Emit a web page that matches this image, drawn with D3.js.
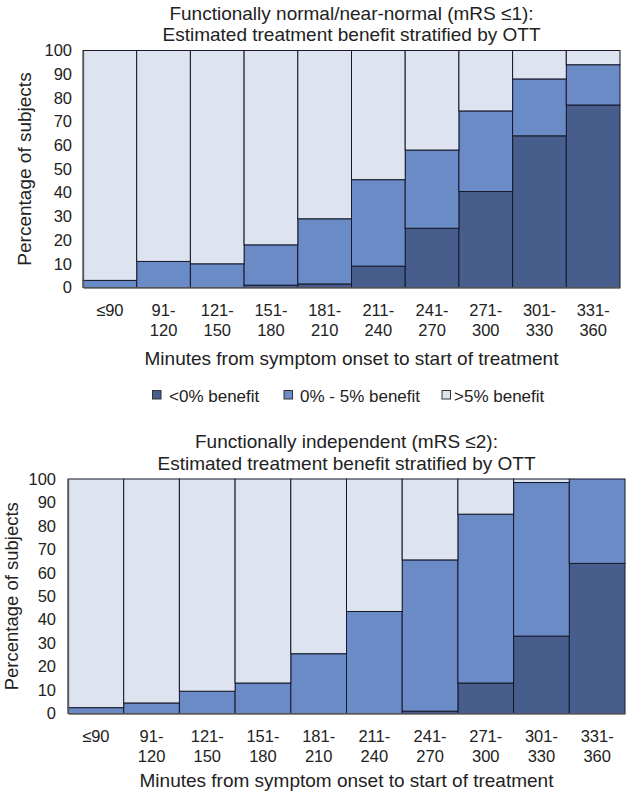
<!DOCTYPE html>
<html>
<head>
<meta charset="utf-8">
<script src="https://cdn.jsdelivr.net/npm/d3@7/dist/d3.min.js"></script>
<style>
  html, body { margin: 0; padding: 0; background: #fff; }
  svg { display: block; }
  text { font-family: "Liberation Sans", Arial, sans-serif; fill: #222; }
</style>
</head>
<body>
<svg id="chart" width="628" height="794"></svg>
<script>
// ---- data ----
const categories = [["≤90"], ["91-", "120"], ["121-", "150"], ["151-", "180"], ["181-", "210"],
  ["211-", "240"], ["241-", "270"], ["271-", "300"], ["301-", "330"], ["331-", "360"]];
const seriesNames = ["<0% benefit", "0% - 5% benefit", ">5% benefit"];
const yTicks = [0, 10, 20, 30, 40, 50, 60, 70, 80, 90, 100];

// Panel 1: mRS ≤1 (cumulative tops)
const top1Dark = [0, 0, 0, 1, 1.5, 9, 25, 40.5, 64, 77];      // <0% benefit
const top1Mid  = [3, 11, 10, 18, 29, 45.5, 58, 74.5, 88, 94];  // top of 0%-5% segment
// Panel 2: mRS ≤2
const top2Dark = [0, 0, 0, 0, 0, 0, 1, 13, 33, 64];
const top2Mid  = [2.5, 4.5, 9.5, 13, 25.5, 43.5, 65.5, 85, 98.5, 100];

const colors = ["#475e8d", "#6a8bc6", "#dde3ef"];

const svg = d3.select("#chart");

function panel(cfg) {
  const { x0, x1, yTop, yBot, darkTop, midTop, title, yTitleX, yTitleSize, xTitleDy, tickPad } = cfg;
  const g = svg.append("g");
  const x = d3.scaleBand().domain(d3.range(categories.length)).range([x0, x1]).padding(0);
  const y = d3.scaleLinear().domain([0, 100]).range([yBot, yTop]);

  // stacked segments from data
  const rows = categories.map((c, i) => ({
    i,
    s0: darkTop[i],
    s1: midTop[i] - darkTop[i],
    s2: 100 - midTop[i]
  }));
  const stack = d3.stack().keys(["s0", "s1", "s2"])(rows);

  stack.forEach((layer, li) => {
    g.append("g").selectAll("rect").data(layer).join("rect")
      .attr("x", d => x(d.data.i))
      .attr("width", x.bandwidth())
      .attr("y", d => y(d[1]))
      .attr("height", d => Math.max(0, y(d[0]) - y(d[1])))
      .attr("fill", colors[li])
      .attr("stroke", "#15182a")
      .attr("stroke-width", d => (d[1] - d[0]) > 0 ? 1 : 0);
  });

  // y axis
  const yAxis = d3.axisLeft(y).tickValues(yTicks).tickSize(0).tickPadding(tickPad);
  const ya = g.append("g").attr("transform", `translate(${x0},0)`).call(yAxis);
  ya.select(".domain").attr("stroke", "#555").attr("stroke-width", 1.3);
  ya.selectAll("text").attr("font-size", 16.5).attr("fill", "#222")
    .attr("font-family", '"Liberation Sans", Arial, sans-serif');

  // x axis baseline
  const xAxis = d3.axisBottom(x).tickSize(0).tickFormat("");
  const xa = g.append("g").attr("transform", `translate(0,${yBot})`).call(xAxis);
  xa.select(".domain").attr("stroke", "#666").attr("stroke-width", 1.3);

  // x tick labels (two lines)
  const lbl = g.append("g").selectAll("text").data(categories).join("text")
    .attr("text-anchor", "middle")
    .attr("font-size", 16.5)
    .attr("x", (d, i) => x(i) + x.bandwidth() / 2)
    .attr("y", yBot + 28.5);
  lbl.selectAll("tspan").data(d => d).join("tspan")
    .attr("x", function () { return d3.select(this.parentNode).attr("x"); })
    .attr("dy", (d, j) => j === 0 ? 0 : 20)
    .text(d => d);

  // x axis title
  g.append("text").attr("text-anchor", "middle").attr("font-size", 19)
    .attr("x", (x0 + x1) / 2).attr("y", yBot + xTitleDy)
    .text("Minutes from symptom onset to start of treatment");

  // y axis title
  g.append("text").attr("text-anchor", "middle").attr("font-size", yTitleSize)
    .attr("transform", `translate(${yTitleX},${(yTop + yBot) / 2}) rotate(-90)`)
    .text("Percentage of subjects");

  // chart title
  g.append("text").attr("text-anchor", "middle").attr("font-size", 19)
    .attr("x", (x0 + x1) / 2).attr("y", yTop - 31).text(title[0]);
  g.append("text").attr("text-anchor", "middle").attr("font-size", 19)
    .attr("x", (x0 + x1) / 2).attr("y", yTop - 9.5).text(title[1]);
}

panel({
  x0: 83, x1: 620, yTop: 50.5, yBot: 287.5,
  darkTop: top1Dark, midTop: top1Mid, yTitleX: 31, yTitleSize: 19, xTitleDy: 77, tickPad: 11,
  title: ["Functionally normal/near-normal (mRS ≤1):", "Estimated treatment benefit stratified by OTT"]
});
panel({
  x0: 68, x1: 625, yTop: 479, yBot: 713.5,
  darkTop: top2Dark, midTop: top2Mid, yTitleX: 17.5, yTitleSize: 18.5, xTitleDy: 73.5, tickPad: 12,
  title: ["Functionally independent (mRS ≤2):", "Estimated treatment benefit stratified by OTT"]
});

// legend
const legendX = [152.5, 284, 442];
const legendTextX = [169, 300, 454];
const lg = svg.append("g");
seriesNames.forEach((name, i) => {
  lg.append("rect").attr("x", legendX[i]).attr("y", 390.5).attr("width", 8.5).attr("height", 8.5)
    .attr("fill", colors[i]).attr("stroke", "#333").attr("stroke-width", 1);
  lg.append("text").attr("x", legendTextX[i]).attr("y", 401.5)
    .attr("font-size", 17).text(name);
});
</script>
</body>
</html>
